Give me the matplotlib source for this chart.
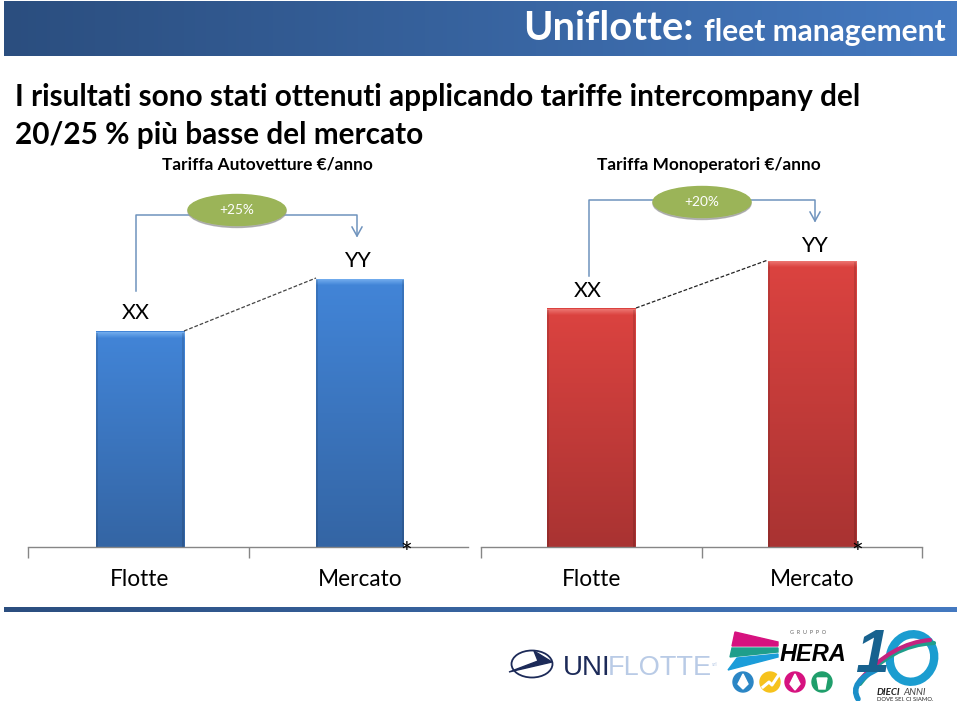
import matplotlib
matplotlib.use('Agg')
import matplotlib.pyplot as plt
import numpy as np
from matplotlib.colors import LinearSegmentedColormap
from matplotlib.patches import Ellipse, Polygon, Circle, PathPatch, Rectangle
from matplotlib.path import Path

plt.rcParams['font.family'] = ['Lato', 'DejaVu Sans']

categories = ['Flotte', 'Mercato']
auto_values = [215, 268]
mono_values = [238, 286]
bar_labels = ['XX', 'YY']
auto_title = 'Tariffa Autovetture €/anno'
mono_title = 'Tariffa Monoperatori €/anno'
auto_delta = '+25%'
mono_delta = '+20%'
heading_1 = 'I risultati sono stati ottenuti applicando tariffe intercompany del'
heading_2 = '20/25 % più basse del mercato'

W, H = 960, 701


def px_axes(fig, x0, y0, x1, y1):
    return fig.add_axes([x0 / W, 1 - y1 / H, (x1 - x0) / W, (y1 - y0) / H])


def gradient_rect(ax, x0, x1, y0, y1, c0, c1, horizontal=False, zorder=2):
    cmap = LinearSegmentedColormap.from_list('g', [c0, c1])
    grad = np.linspace(0, 1, 256)
    grad = grad[None, :] if horizontal else grad[:, None]
    ax.imshow(grad, extent=[x0, x1, y0, y1], origin='lower', cmap=cmap,
              aspect='auto', zorder=zorder, interpolation='bilinear')


def bar_chart(ax, values, top, bottom, light, shift, label_shift, label_gap, ticks):
    x = np.arange(len(values)) + 0.5 + shift
    width = 0.4
    for xi, v, label, ls, gap in zip(x, values, bar_labels, label_shift, label_gap):
        gradient_rect(ax, xi - width / 2, xi + width / 2, 0, v, bottom, top)
        # bevel on the top edge and the sides
        gradient_rect(ax, xi - width / 2, xi + width / 2, v - 6, v, top, light, zorder=3)
        ax.add_patch(Rectangle((xi - width / 2, 0), 0.01, v - 1, color='black', alpha=0.12, lw=0, zorder=4))
        ax.add_patch(Rectangle((xi + width / 2 - 0.01, 0), 0.01, v - 1, color='black', alpha=0.12, lw=0, zorder=4))
        ax.text(xi + ls, v + gap, label, ha='center', va='center', fontsize=15.5, color='black')
    ax.set_xlim(0, 2)
    ax.set_ylim(0, 547 - 190)
    ax.set_xticks(ticks)
    ax.set_xticklabels([])
    ax.set_yticks([])
    ax.tick_params(axis='x', length=8, width=1, color='#868686', direction='out')
    for s in ['top', 'left', 'right']:
        ax.spines[s].set_visible(False)
    ax.spines['bottom'].set_color('#868686')
    ax.spines['bottom'].set_linewidth(1)
    ax.patch.set_alpha(0)
    for xi, name in zip(x, categories):
        ax.text(xi, -32.5, name, ha='center', va='center', fontsize=16.3, color='black')
    ax.text(x[1] + width / 2 + 0.008, -8, '*', ha='center', va='center', fontsize=20, color='black')


fig = plt.figure(figsize=(W / 100, H / 100), dpi=100, facecolor='white')

# background layer in pixel coordinates
bg = fig.add_axes([0, 0, 1, 1])
bg.axis('off')
gradient_rect(bg, 4, 957, 1, 56, '#2b4e7f', '#4479c0', horizontal=True)
gradient_rect(bg, 4, 957, 608, 612.5, '#2b4e7f', '#4479c0', horizontal=True)
bg.set_xlim(0, W)
bg.set_ylim(H, 0)

bg.text(694, 40, 'Uniflotte:', ha='right', va='baseline', fontsize=28.7, fontweight='bold', color='white')
bg.text(704, 40.5, 'fleet management', ha='left', va='baseline', fontsize=21.5, fontweight='bold', color='white')

bg.text(15, 106, heading_1, ha='left', va='baseline', fontsize=21.4, fontweight='bold', color='black')
bg.text(15, 144, heading_2, ha='left', va='baseline', fontsize=21.4, fontweight='bold', color='black')
bg.text(267, 170, auto_title, ha='center', va='baseline', fontsize=12.4, fontweight='bold', color='black')
bg.text(709, 170, mono_title, ha='center', va='baseline', fontsize=12.4, fontweight='bold', color='black')

# the two bar charts
ax1 = px_axes(fig, 28, 190, 468, 547)
bar_chart(ax1, auto_values, '#4285d8', '#3465a4', '#74aeee', 0.009,
          [-0.018, -0.014], [19, 18], [0, 1.005])
ax2 = px_axes(fig, 481, 190, 922, 547)
bar_chart(ax2, mono_values, '#dc4340', '#a93332', '#ec7672', 0.0,
          [-0.014, 0.014], [18, 15], [0, 1, 2])

# overlay for brackets, ellipses and logos
ov = fig.add_axes([0, 0, 1, 1])
ov.set_xlim(0, W)
ov.set_ylim(H, 0)
ov.axis('off')
ov.patch.set_alpha(0)

line_col = '#6f93bd'


def bracket(x0, y_low, y_top, x1, y_tip, cx, cy, text):
    ov.plot([x0, x0, x1, x1], [y_low, y_top, y_top, y_tip], color=line_col, lw=1.1, zorder=3)
    ov.plot([x1 - 5, x1, x1 + 5], [y_tip - 9, y_tip, y_tip - 9], color=line_col, lw=1.1, zorder=3)
    ov.add_patch(Ellipse((cx, cy + 1.5), 98, 32, color='#9a9a9a', alpha=0.7, zorder=4))
    ov.add_patch(Ellipse((cx, cy), 98, 31, color='#9bb458', zorder=5))
    ov.text(cx, cy, text, ha='center', va='center', fontsize=9.8, color='white', zorder=6)


def curve(p0, c, p1, col, lw):
    path = Path([p0, c, p1], [Path.MOVETO, Path.CURVE3, Path.CURVE3])
    ov.add_patch(PathPatch(path, fill=False, ec=col, lw=lw, capstyle='round'))


bracket(136, 291, 215, 357, 236, 237, 210, auto_delta)
bracket(589, 276, 200, 815, 221, 702, 202, mono_delta)

ov.plot([184, 316], [331, 278], color='#444444', lw=0.9, ls=(0, (3, 1.5)), zorder=3)
ov.plot([636, 768], [308, 260], color='#222222', lw=0.9, ls=(0, (3, 1.5)), zorder=3)

# UNIFLOTTE logo
ov.add_patch(Ellipse((532, 664), 41, 27, fill=False, ec='#1c2a58', lw=1.3))
ov.add_patch(Polygon([[509, 672], [552, 662], [534, 651], [538, 661]], color='#1c2a58'))
ov.text(563, 675, 'UNI', ha='left', va='baseline', fontsize=20, color='#1c2a58', family='Liberation Sans')
ov.text(608, 675, 'FLOTTE', ha='left', va='baseline', fontsize=19.5, color='#b9cbe6', family='Liberation Sans')
ov.text(712, 664, 'srl', ha='left', va='center', fontsize=4, color='#b9cbe6')

# HERA logo
ov.add_patch(Polygon([[735, 632], [778, 642], [778, 646], [732, 646]], color='#d6127f'))
ov.add_patch(Polygon([[732, 648], [778, 648], [778, 652], [730, 657]], color='#1f9e8b'))
ov.add_patch(Polygon([[737, 658], [778, 654], [778, 657], [755, 663], [728, 670]], color='#1b9dd9'))
ov.text(808, 633, 'G  R  U  P  P  O', ha='center', va='center', fontsize=4, color='#666666')
ov.text(780, 661, 'HERA', ha='left', va='baseline', fontsize=17, style='italic', fontweight='bold',
        color='black', family=['Liberation Sans Narrow', 'Liberation Sans'])
for cx, col in zip([743, 770, 795, 822], ['#2b86c5', '#f6c21c', '#d6127f', '#1f9e6b']):
    ov.add_patch(Circle((cx, 682), 10, color=col))
ov.add_patch(Polygon([[743, 674], [748, 684], [743, 689], [738, 684]], color='white'))
ov.plot([763, 769, 772, 778], [687, 682, 685, 676], color='white', lw=2.2)
ov.add_patch(Polygon([[795, 674], [800, 684], [795, 690], [790, 684]], color='white'))
ov.add_patch(Polygon([[817, 678], [827, 678], [825, 689], [819, 689]], color='white'))

# 10 anni logo
ov.text(872, 672, '1', ha='center', va='baseline', fontsize=44, fontweight='bold', style='italic',
        color='#17628f', family='Liberation Sans')
ov.add_patch(Ellipse((912, 658), 44, 48, angle=20, fill=False, ec='#1b9dd0', lw=6))
curve((860, 684), (890, 645), (934, 643), '#1f9e8b', 3)
curve((860, 680), (892, 643), (930, 640), '#c4237f', 3)
curve((880, 668), (848, 682), (858, 699), '#1b8fc8', 4)
ov.text(877, 695, 'DIECI', ha='left', va='baseline', fontsize=7, fontweight='bold',
        style='italic', color='#222222')
ov.text(903, 695, 'ANNI', ha='left', va='baseline', fontsize=7, style='italic', color='#444444')
ov.text(877, 700, 'DOVE SEI, CI SIAMO.', ha='left', va='baseline', fontsize=4.2, color='#222222')

fig.savefig('out.png', dpi=100)
